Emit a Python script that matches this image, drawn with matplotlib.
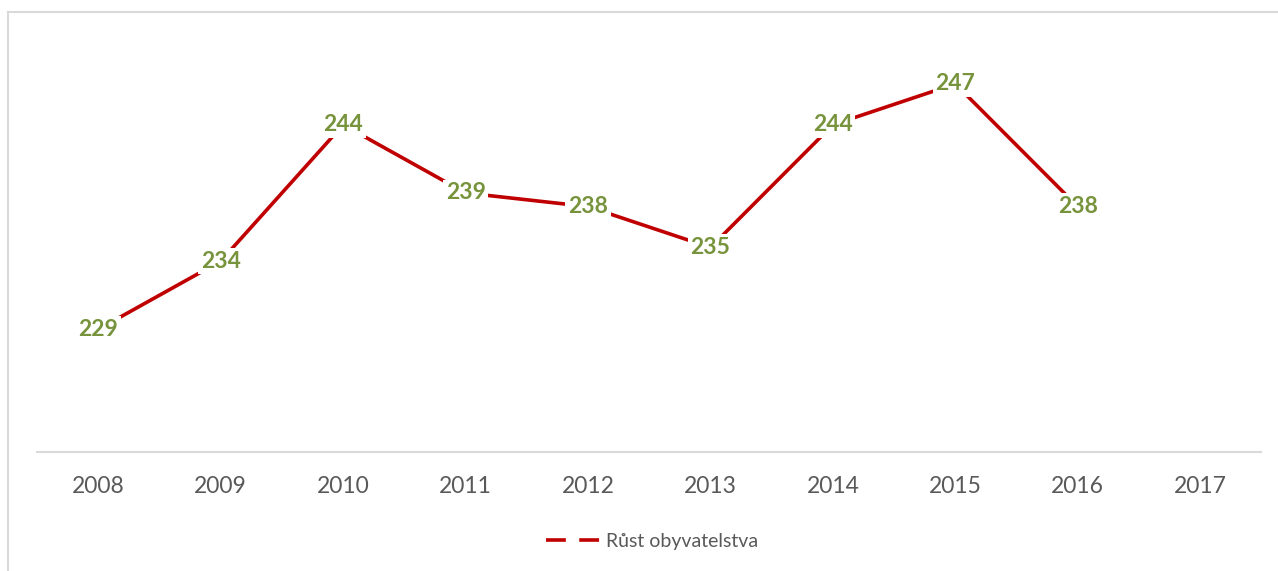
import matplotlib.pyplot as plt
from matplotlib.lines import Line2D

# data
years = ['2008', '2009', '2010', '2011', '2012', '2013', '2014', '2015', '2016', '2017']
values = [229, 234, 244, 239, 238, 235, 244, 247, 238]
series_name = 'Růst obyvatelstva'

line_color = '#C00000'
label_color = '#77933C'
text_gray = '#595959'

plt.rcParams['font.family'] = ['Lato', 'DejaVu Sans']

fig = plt.figure(figsize=(12.78, 5.71), dpi=100)
ax = fig.add_axes([0.029, 0.2084, 0.958, 0.7163])

x = list(range(len(years)))
ax.plot(x[:len(values)], values, color=line_color, linewidth=2.6,
        solid_capstyle='butt', zorder=2)

for xi, v in zip(x, values):
    ax.text(xi, v, str(v), ha='center', va='center', fontsize=16.5,
            fontweight='bold', color=label_color, zorder=3,
            bbox=dict(facecolor='white', edgecolor='none', pad=2))

ax.set_xlim(-0.5, len(years) - 0.5)
ax.set_ylim(220, 250)
ax.set_xticks(x)
ax.set_xticklabels(years, fontsize=16.5, color=text_gray)
ax.tick_params(axis='x', length=0, pad=17)
ax.set_yticks([])
for side in ['top', 'left', 'right']:
    ax.spines[side].set_visible(False)
ax.spines['bottom'].set_color('#D9D9D9')
ax.spines['bottom'].set_linewidth(1.5)

handle = Line2D([], [], color=line_color, linewidth=2.6, dashes=(5.5, 3.7))
leg = fig.legend([handle], [series_name], loc='center',
                 bbox_to_anchor=(0.51, 0.0525), frameon=False,
                 fontsize=14, handlelength=2.8, handletextpad=0.3)
for t in leg.get_texts():
    t.set_color(text_gray)

# chart area border (only top and left visible)
fig.add_artist(Line2D([0.0063, 1.0], [1 - 12 / 571, 1 - 12 / 571],
                      transform=fig.transFigure, color='#D9D9D9', linewidth=1.5))
fig.add_artist(Line2D([0.0063, 0.0063], [0.0, 1 - 12 / 571],
                      transform=fig.transFigure, color='#D9D9D9', linewidth=1.5))

fig.savefig('out.png', dpi=100, facecolor='white')
